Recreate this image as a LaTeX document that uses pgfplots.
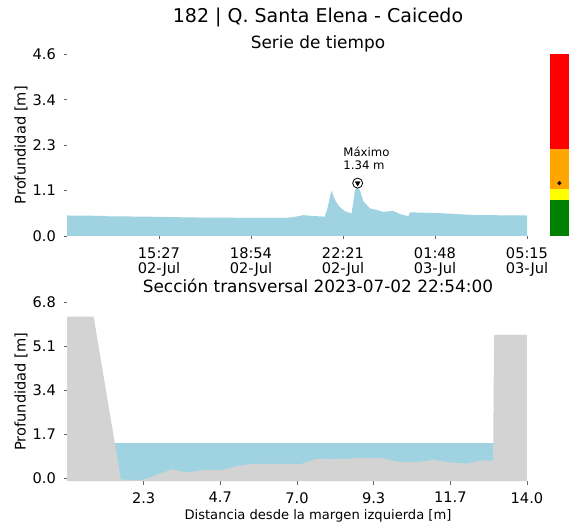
\documentclass[border=0pt]{standalone}
\usepackage{fontspec}
\setmainfont{DejaVu Sans}
\usepackage{pgfplots}
\pgfplotsset{compat=1.18}

\definecolor{agua}{HTML}{9FD3E1}
\definecolor{terreno}{HTML}{D3D3D3}
\definecolor{verde}{HTML}{008000}
\definecolor{amarillo}{HTML}{FFFF00}
\definecolor{naranja}{HTML}{FFA500}
\definecolor{rojo}{HTML}{FF0000}

\newcommand{\fticks}{\fontsize{14.6bp}{15bp}\selectfont}

\pgfplotsset{
  panel/.style={
    scale only axis,
    width=502bp,
    axis x line*=bottom, axis y line*=left,
    axis line style={draw=none},
    tick align=outside,
    major tick length=3.5bp,
    tick style={black!60, line width=0.8bp},
    tick label style={font=\fticks, inner sep=0pt},
    xticklabel style={anchor=north, align=center, yshift=-7.5bp},
    yticklabel style={anchor=east, xshift=-7.5bp},
    every axis y label/.style={at={(axis description cs:-0.0916,0.5)},
      rotate=90, anchor=center, font=\fticks},
    every axis x label/.style={at={(axis description cs:0.5,0)},
      anchor=north, yshift=-25bp, font=\fontsize{13.1bp}{15bp}\selectfont},
    clip=false,
  }
}

\begin{document}
\begin{tikzpicture}
\useasboundingbox (0,0) rectangle (574bp,525bp);

% serie de tiempo (minutos desde 02-Jul 00:00)
\begin{axis}[panel,
  at={(67bp,289bp)}, anchor=south west,
  height=181.5bp,
  xmin=720, xmax=1849.5, ymin=0, ymax=4.6,
  xtick={927,1134,1341,1548,1755},
  xticklabels={15:27\\02-Jul,18:54\\02-Jul,22:21\\02-Jul,01:48\\03-Jul,05:15\\03-Jul},
  ytick={0,1.15,2.3,3.45,4.6},
  yticklabels={0.0,1.1,2.3,3.4,4.6},
  ylabel={Profundidad [m]},
]
\addplot[fill=agua, draw=none] coordinates {
  (720,0) (720,0.52) (805,0.51) (810,0.50) (900,0.49) (1000,0.47)
  (1130,0.46) (1214,0.46) (1235,0.49) (1252,0.53) (1270,0.51)
  (1300,0.49) (1306,0.70) (1315,1.15) (1323,0.91) (1333,0.74)
  (1345,0.63) (1360,0.57) (1364,0.83) (1368,1.16) (1373,1.24)
  (1379,1.16) (1387,0.87) (1402,0.70) (1417,0.66) (1432,0.61)
  (1448,0.63) (1455,0.63) (1468,0.56) (1485,0.51) (1489,0.51)
  (1491,0.60) (1557,0.58) (1640,0.53) (1755,0.52) (1755,0)
} -- cycle;
% barra de umbrales
\addplot[fill=rojo, draw=none] coordinates {(1806.75,2.2) (1849.5,2.2) (1849.5,4.6) (1806.75,4.6)} -- cycle;
\addplot[fill=naranja, draw=none] coordinates {(1806.75,1.19) (1849.5,1.19) (1849.5,2.2) (1806.75,2.2)} -- cycle;
\addplot[fill=amarillo, draw=none] coordinates {(1806.75,0.91) (1849.5,0.91) (1849.5,1.19) (1806.75,1.19)} -- cycle;
\addplot[fill=verde, draw=none] coordinates {(1806.75,0) (1849.5,0) (1849.5,0.91) (1806.75,0.91)} -- cycle;
\addplot[only marks, mark=*, mark size=1.8bp, black] coordinates {(1828,1.34)};
% maximo
\addplot[only marks, mark=*, mark size=5bp, mark options={draw=black, fill=white, line width=0.8bp}] coordinates {(1374,1.34)};
\addplot[only marks, mark=triangle*, mark size=2.8bp, mark options={rotate=180, fill=black, draw=black}] coordinates {(1374,1.34)};
\node[anchor=south west, align=left, inner sep=0pt, xshift=-14.4bp, yshift=13.4bp,
  font=\fontsize{11.7bp}{13.3bp}\selectfont] at (axis cs:1374,1.34) {Máximo\\1.34 m};
\end{axis}

% seccion transversal
\begin{axis}[panel,
  at={(67bp,43.9bp)}, anchor=south west,
  height=178.6bp,
  xmin=0, xmax=15.28, ymin=-0.12, ymax=6.8,
  xtick={2.3333,4.6667,7,9.3333,11.6667,14},
  xticklabels={2.3,4.7,7.0,9.3,11.7,14.0},
  ytick={0,1.7,3.4,5.1,6.8},
  yticklabels={0.0,1.7,3.4,5.1,6.8},
  ylabel={Profundidad [m]},
  xlabel={Distancia desde la margen izquierda [m]},
]
\addplot[fill=agua, draw=none] coordinates {
  (1.45,-0.12) (1.45,1.34) (13.0,1.34) (13.0,-0.12)
} -- cycle;
\addplot[fill=terreno, draw=none] coordinates {
  (0,-0.12) (0,6.25) (0.81,6.25) (1.64,-0.05) (2.19,-0.10) (2.42,-0.03)
  (3.20,0.34) (3.64,0.21) (4.14,0.31) (4.70,0.30) (5.20,0.47)
  (5.65,0.55) (6.37,0.55) (7.09,0.53) (7.60,0.74) (8.21,0.73)
  (8.99,0.78) (9.54,0.77) (10.16,0.61) (10.66,0.62) (11.16,0.70)
  (11.66,0.60) (12.16,0.56) (12.66,0.69) (12.97,0.66) (13.0,5.55)
  (14.0,5.55) (14.0,-0.12)
} -- cycle;
\end{axis}

\node[anchor=base, inner sep=0pt, font=\fontsize{19bp}{22bp}\selectfont] at (318bp,502bp) {182 | Q. Santa Elena - Caicedo};
\node[anchor=base, inner sep=0pt, font=\fontsize{16.9bp}{20bp}\selectfont] at (318bp,476.7bp) {Serie de tiempo};
\node[anchor=base, inner sep=0pt, font=\fontsize{16.9bp}{20bp}\selectfont] at (318bp,232bp) {Sección transversal 2023-07-02 22:54:00};
\end{tikzpicture}
\end{document}
